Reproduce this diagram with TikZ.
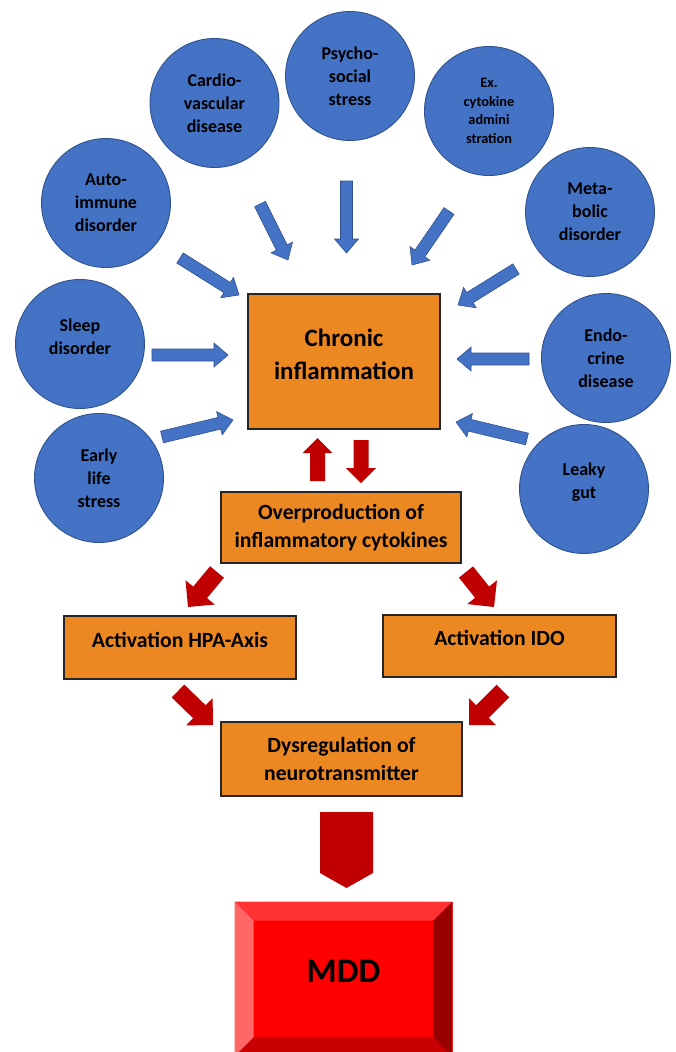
\documentclass[tikz,border=0pt]{standalone}
\usepackage{fontspec}
\setmainfont{Carlito}
\usetikzlibrary{calc}
\definecolor{cblue}{HTML}{4472C4}
\definecolor{cbluedark}{HTML}{2F528F}
\definecolor{corange}{HTML}{EB8821}
\definecolor{cred}{HTML}{C00000}
\definecolor{mddtop}{HTML}{FF3333}
\definecolor{mddleft}{HTML}{FF6666}
\definecolor{mddright}{HTML}{990000}
\definecolor{mddbottom}{HTML}{C80000}
% block arrow: #1 tail, #2 tip, #3 shaft half width, #4 head half width, #5 head length, #6 style
\newcommand{\blockarrow}[6]{%
  \path ($(#2)!#5!(#1)$) coordinate (tmpH);
  \draw[#6] ($(#1)!#3!90:(#2)$) -- ($(tmpH)!#3!-90:(#1)$) -- ($(tmpH)!#4!-90:(#1)$) -- (#2)
    -- ($(tmpH)!#4!90:(#1)$) -- ($(tmpH)!#3!90:(#1)$) -- ($(#1)!#3!-90:(#2)$) -- cycle;}
\tikzset{
  circ/.style={circle, draw=cbluedark, line width=0.9pt, fill=cblue, minimum size=129pt,
    inner sep=0pt, align=center, font=\bfseries\fontsize{18}{23}\selectfont},
  ctx/.style={align=center, inner sep=0pt, font=\bfseries\fontsize{18}{23}\selectfont},
  obox/.style={rectangle, draw=black!85, line width=1.2pt, fill=corange, inner sep=0pt,
    align=center, font=\bfseries\fontsize{21.7}{28}\selectfont},
  otx/.style={align=center, inner sep=0pt, font=\bfseries\fontsize{21.7}{28}\selectfont},
  bluearrow/.style={fill=cblue, draw=cbluedark, line width=0.6pt},
  redarrow/.style={fill=cred, draw=none},
}
\begin{document}
\begin{tikzpicture}[x=1pt,y=-1pt]
\useasboundingbox (0,0) rectangle (676,1052);
% circles
\node[circ] (psycho) at (350,76) {Psycho-\\social\\stress};
\node[circ] (cardio) at (214.5,103) {Cardio-\\vascular\\disease};
\node[circ, font=\bfseries\fontsize{14.3}{18.5}\selectfont] (excyt) at (489,111) {Ex.\\cytokine\\admini\\stration};
\node[circ] (auto) at (106,203) {Auto-\\immune\\disorder};
\node[circ] (meta) at (590,212) {Meta-\\bolic\\disorder};
\node[circ, label={[ctx,yshift=7pt]center:{Sleep\\disorder}}] (sleep) at (80,344) {};
\node[circ] (endo) at (606,358) {Endo-\\crine\\disease};
\node[circ] (early) at (99,478) {Early\\life\\stress};
\node[circ, label={[ctx,yshift=7pt]center:{Leaky\\gut}}] (leaky) at (584,489) {};
% boxes
\node[obox, minimum width=192pt, minimum height=135pt,
  label={[otx,font=\bfseries\fontsize{25}{33}\selectfont,yshift=7.5pt]center:{Chronic\\inflammation}}] (chronic) at (344,361.5) {};
\node[obox, minimum width=240pt, minimum height=71pt] (overprod) at (341,527.5) {Overproduction of\\inflammatory cytokines};
\node[obox, minimum width=232pt, minimum height=63pt,
  label={[otx,yshift=7.5pt]center:{Activation HPA-Axis}}] (hpa) at (180,647.5) {};
\node[obox, minimum width=233pt, minimum height=62pt,
  label={[otx,yshift=8pt]center:{Activation IDO}}] (ido) at (499.5,646) {};
\node[obox, minimum width=241pt, minimum height=74pt] (dysreg) at (341.5,759) {Dysregulation of\\neurotransmitter};
% MDD bevel box
\node[rectangle, fill=red, draw=mddtop, line width=0.8pt, minimum width=217pt, minimum height=154pt, inner sep=0pt] (mdd) at (343.5,979) {};
\coordinate (iNW) at ($(mdd.north west)+(19,19)$);
\coordinate (iNE) at ($(mdd.north east)+(-19,19)$);
\coordinate (iSW) at ($(mdd.south west)+(19,-19)$);
\coordinate (iSE) at ($(mdd.south east)+(-19,-19)$);
\fill[mddtop] (mdd.north west) -- (mdd.north east) -- (iNE) -- (iNW) -- cycle;
\fill[mddleft] (mdd.north west) -- (iNW) -- (iSW) -- (mdd.south west) -- cycle;
\fill[mddright] (mdd.north east) -- (mdd.south east) -- (iSE) -- (iNE) -- cycle;
\fill[mddbottom] (mdd.south west) -- (iSW) -- (iSE) -- (mdd.south east) -- cycle;
\node[inner sep=0pt, font=\bfseries\fontsize{34.5}{40}\selectfont] (mddtext) at (343.5,971) {MDD};
% blue arrow coordinates
\coordinate (cvT) at (260,204);  \coordinate (cvP) at (288,260);
\coordinate (psT) at (346.5,181); \coordinate (psP) at (346.5,253);
\coordinate (exT) at (449,211);  \coordinate (exP) at (412,265);
\coordinate (auT) at (180,258);  \coordinate (auP) at (239,295);
\coordinate (meT) at (516,269);  \coordinate (meP) at (458,305);
\coordinate (slT) at (152,355);  \coordinate (slP) at (228,355);
\coordinate (eaT) at (162,437);  \coordinate (eaP) at (233,420);
\coordinate (enT) at (529,359);  \coordinate (enP) at (457,359);
\coordinate (lkT) at (527,439);  \coordinate (lkP) at (456,422);
\foreach \a in {cv,ps,ex,au,me,sl,ea,en,lk}{
  \blockarrow{\a T}{\a P}{6pt}{12pt}{14pt}{bluearrow}}
% red arrows
\coordinate (upT) at (317.5,481); \coordinate (upP) at (317.5,438);
\coordinate (dnT) at (361,440);   \coordinate (dnP) at (361,483);
\blockarrow{upT}{upP}{7.5pt}{15pt}{15pt}{redarrow}
\blockarrow{dnT}{dnP}{7.5pt}{15pt}{15pt}{redarrow}
\coordinate (d1T) at (217,572); \coordinate (d1P) at (188,607);
\coordinate (d2T) at (466,572); \coordinate (d2P) at (494,607);
\coordinate (d3T) at (178,691); \coordinate (d3P) at (213,725);
\coordinate (d4T) at (503,691); \coordinate (d4P) at (469,725);
\foreach \a in {d1,d2,d3,d4}{
  \blockarrow{\a T}{\a P}{9pt}{19pt}{19pt}{redarrow}}
\coordinate (bigT) at (346.5,812); \coordinate (bigP) at (346.5,888);
\blockarrow{bigT}{bigP}{26.5pt}{26.5pt}{15pt}{redarrow}
\end{tikzpicture}
\end{document}
